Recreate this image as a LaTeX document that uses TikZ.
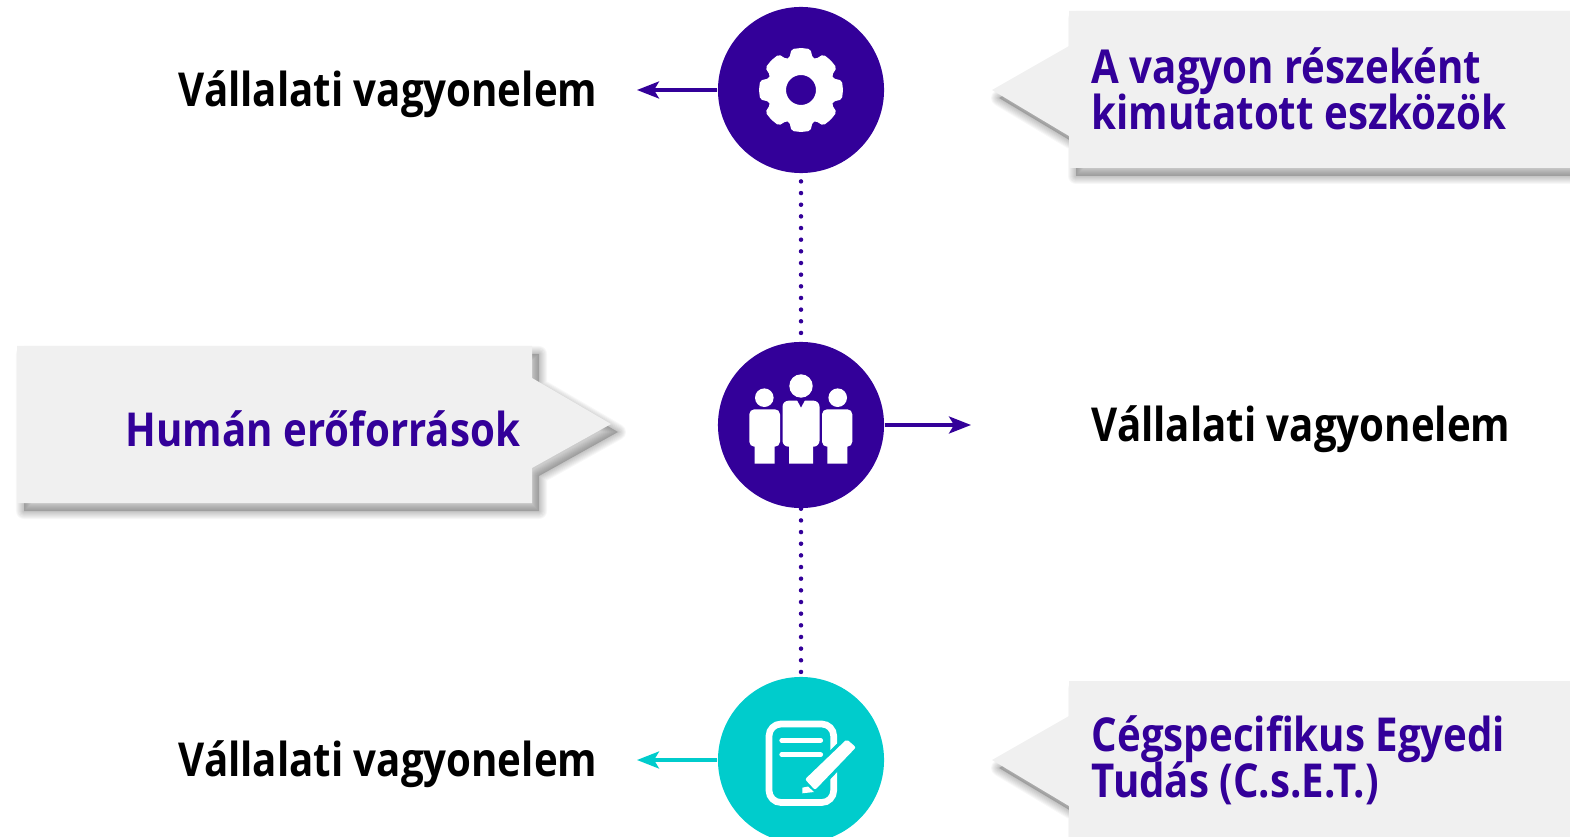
\documentclass[tikz,border=0pt]{standalone}
\usepackage{fontspec}
\setmainfont{Open Sans}[FakeStretch=0.86]
\usetikzlibrary{arrows.meta}
\definecolor{deeppurple}{HTML}{330099}
\definecolor{brightteal}{HTML}{00CCCC}
\definecolor{calloutgray}{HTML}{F0F0F0}
\tikzset{
    disc/.style={circle, minimum size=1.66cm, inner sep=0pt},
    headline/.style={font=\fontsize{13.3}{13.1}\selectfont\bfseries, inner sep=0pt, anchor=base west, align=left},
    linkdots/.style={deeppurple, line width=0.045cm, line cap=round, dash pattern=on 0pt off 0.1165cm},
    pointer/.style={line width=0.033cm, -{Stealth[length=0.22cm, width=0.17cm, inset=0.05cm]}},
    shadowlayer/.style={draw=black, opacity=0.03, line join=round},
}
\newcommand{\softshadow}[1]{%
    \fill[black, opacity=0.2, shift={(7,8)}] #1;
    \foreach \w in {0.02,0.04,...,0.17} {\draw[shadowlayer, line width=\w cm, shift={(7,8)}] #1;}
}
\begin{document}
\begin{tikzpicture}[x=0.01cm, y=-0.01cm]
    \clip (0,0) rectangle (1570,837);
    % callouts
    \softshadow{(1069,11) -- (1600,11) -- (1600,168) -- (1069,168) -- (1069,136) -- (992,90) -- (1069,46) -- cycle}
    \fill[calloutgray] (1069,11) -- (1600,11) -- (1600,168) -- (1069,168) -- (1069,136) -- (992,90) -- (1069,46) -- cycle;
    \softshadow{(17,346) -- (532,346) -- (532,378) -- (611,424) -- (532,468) -- (532,503) -- (17,503) -- cycle}
    \fill[calloutgray] (17,346) -- (532,346) -- (532,378) -- (611,424) -- (532,468) -- (532,503) -- (17,503) -- cycle;
    \softshadow{(1069,681) -- (1600,681) -- (1600,860) -- (1069,860) -- (1069,806) -- (992,760) -- (1069,716) -- cycle}
    \fill[calloutgray] (1069,681) -- (1600,681) -- (1600,860) -- (1069,860) -- (1069,806) -- (992,760) -- (1069,716) -- cycle;
    % discs
    \node[disc, fill=deeppurple] (gear) at (801,90) {};
    \node[disc, fill=deeppurple] (people) at (801,425) {};
    \node[disc, fill=brightteal] (note) at (801,760) {};
    % labels
    \node[headline] (assetleft) at (178,107) {Vállalati vagyonelem};
    \node[headline] (assetright) at (1091,442) {Vállalati vagyonelem};
    \node[headline] (assetlow) at (178,776) {Vállalati vagyonelem};
    \node[headline, deeppurple] (shown) at (1091,84) {A vagyon részeként};
    \node[headline, deeppurple] (shownb) at (1091,130) {kimutatott eszközök};
    \node[headline, deeppurple] (human) at (125,446) {Humán erőforrások};
    \node[headline, deeppurple] (cset) at (1091,751) {Cégspecifikus Egyedi};
    \node[headline, deeppurple] (csetb) at (1091,797) {Tudás (C.s.E.T.)};
    % connectors
    \coordinate (tipgear) at (637,90);
    \coordinate (tippeople) at (971,425);
    \coordinate (tipnote) at (637,760);
    \draw[pointer, deeppurple] (gear) -- (tipgear);
    \draw[pointer, deeppurple] (people) -- (tippeople);
    \draw[pointer, brightteal] (note) -- (tipnote);
    \draw[linkdots, dash phase=0.04cm] (gear) -- (people);
    \draw[linkdots] (people) -- (note);
    % gear icon
    \begin{scope}[shift={(gear.center)}]
        \fill[white, even odd rule, rounded corners=0.02cm] (0:42)
            \foreach \a in {0,45,...,315} {
                -- (\a+13:42) -- (\a+20:34) -- (\a+25:34) -- (\a+32:42) -- (\a+45:42)
            } -- cycle (0,0) circle (15);
    \end{scope}
    % people icon
    \begin{scope}[shift={(people.center)}]
        \fill[white] (0,-39) circle (11.7) (-36.7,-27.3) circle (9.3) (36.7,-27.3) circle (9.3);
        \fill[white, rounded corners=0.06cm] (-18.5,-24.3) rectangle (18.5,21.7);
        \fill[white, rounded corners=0.05cm] (-51.7,-15.7) rectangle (-21,21.7);
        \fill[white, rounded corners=0.05cm] (21,-15.7) rectangle (51.3,21.7);
        \fill[white] (-12,15) rectangle (12,38.7) (-46.3,15) rectangle (-26.3,38.7) (26.3,15) rectangle (46.3,38.7);
        \fill[deeppurple] (-4,-25) -- (4,-25) -- (0,-17.5) -- cycle;
    \end{scope}
    % note icon
    \begin{scope}[shift={(note.center)}]
        \draw[white, line width=0.067cm, rounded corners=0.12cm] (-32,-36) rectangle (32.7,42.5);
        \draw[white, line width=0.047cm, line cap=round] (-19.3,-19.7) -- (19.7,-19.7) (-19.3,-5.3) -- (19.7,-5.3);
        \draw[brightteal, line width=0.07cm, line join=round] (45.7,-20.7) -- (55,-12.7) -- (14,30) -- (4,19.3) -- cycle;
        \fill[white, rounded corners=0.02cm] (45.7,-20.7) -- (55,-12.7) -- (14,30) -- (4,19.3) -- cycle;
        \fill[white] (1.3,27.7) -- (7,26.5) -- (13,32) -- (1.3,33.3) -- cycle;
    \end{scope}
\end{tikzpicture}
\end{document}
